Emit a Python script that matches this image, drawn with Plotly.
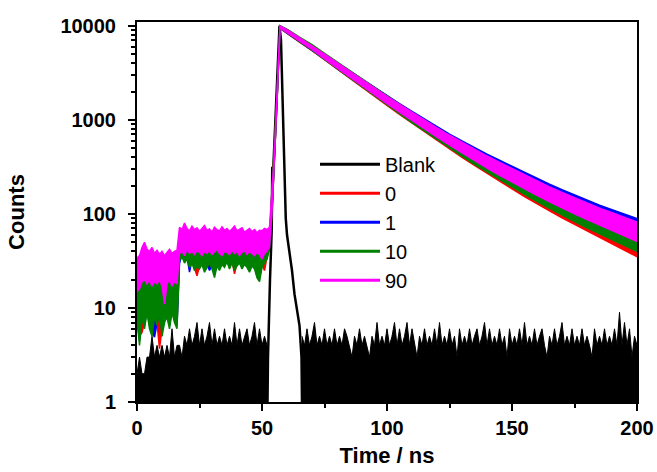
import plotly.graph_objects as go

# ---------------- data ----------------
# shared time grid (ns) for the four fluorescence decays
T_FL = [0, 1, 2, 3, 4, 5, 6, 7, 8, 9, 10, 11, 12, 13, 14, 15, 16,
        17, 18, 19, 20, 21, 22, 23, 24, 25, 26, 27, 28, 29, 30, 31, 32, 33, 34, 35,
        36, 37, 38, 39, 40, 41, 42, 43, 44, 45, 46, 47, 48, 49, 50, 51, 52, 53,
        54, 55, 56, 57.2,
        60, 65, 70, 75, 80, 85, 90, 95, 100, 105, 110, 115, 120, 125, 130, 135,
        140, 145, 150, 155, 160, 165, 170, 175, 180, 185, 190, 195, 200]

# series "0" (red): upper / lower noise envelope
S0_HI = [20, 21, 23, 22, 21, 23, 20, 22, 21, 23, 20, 19, 21, 23, 20, 22, 21,
         44, 46, 43, 48, 45, 47, 44, 46, 43, 45, 48, 44, 46, 43, 47, 45, 44, 46, 48,
         43, 45, 47, 44, 46, 45, 43, 47, 44, 46, 45, 43, 46, 44, 45, 47, 46, 52,
         160, 430, 1800, 9900,
         9050, 7400, 6150, 4950, 4020, 3250, 2640, 2140, 1750, 1430, 1170, 965, 800, 665, 555, 465,
         395, 337, 288, 246, 211, 182, 158, 137, 120, 106, 94, 83, 74]
S0_LO = [8, 5, 5.5, 7, 9.5, 7, 6, 8.5, 7, 3.7, 6, 7.5, 8.5, 7, 9.5, 8, 7,
         34, 37, 32, 35, 29, 32, 27, 22, 28, 31, 26, 29, 32, 28, 23, 30, 27, 31, 29,
         33, 28, 32, 23, 30, 32, 28, 31, 29, 26, 30, 28, 23, 21, 29, 25, 35, 44,
         100, 360, 1500, 9400,
         8250, 6700, 5450, 4350, 3450, 2760, 2200, 1780, 1420, 1140, 920, 745, 605, 492, 400, 327,
         268, 222, 184, 153, 128, 108, 91, 77, 65, 56, 48, 41, 35]

# series "1" (blue)
S1_HI = [20, 21, 22, 22, 21, 22, 20, 21, 21, 22, 20, 19, 21, 22, 20, 21, 21,
         44, 45, 43, 47, 45, 46, 44, 45, 43, 45, 47, 44, 45, 43, 46, 45, 44, 45, 47,
         43, 45, 46, 44, 45, 45, 43, 46, 44, 45, 45, 43, 45, 44, 45, 46, 45, 52,
         165, 435, 1820, 9950,
         9050, 7400, 6150, 5000, 4060, 3300, 2700, 2200, 1810, 1490, 1230, 1020, 845, 705, 595, 505,
         432, 372, 320, 275, 238, 207, 181, 159, 140, 124, 111, 99, 89]
S1_LO = [8, 4.5, 8.5, 6.5, 9.5, 6.5, 5.5, 4.9, 7, 9.5, 5.5, 7.5, 8.5, 6.5, 9.5, 7.5, 6.5,
         30, 37, 32, 35, 24, 32, 27, 30, 28, 31, 26, 29, 25, 28, 23, 30, 27, 31, 29,
         33, 28, 32, 27, 30, 32, 28, 31, 29, 26, 30, 28, 23, 21, 29, 32, 35, 44,
         108, 375, 1580, 9450,
         8350, 6800, 5550, 4430, 3530, 2830, 2270, 1830, 1480, 1195, 970, 795, 652, 538, 443, 370,
         309, 260, 220, 186, 158, 136, 117, 101, 88, 77, 68, 60, 53]

# series "10" (green)
S10_HI = [21, 22, 24, 23, 22, 24, 21, 23, 22, 24, 21, 20, 22, 24, 21, 23, 22,
          46, 48, 45, 50, 47, 49, 46, 48, 45, 47, 50, 46, 48, 45, 49, 47, 46, 48, 50,
          45, 47, 49, 46, 48, 47, 45, 49, 46, 48, 47, 45, 48, 46, 47, 49, 48, 55,
          170, 440, 1850, 10000,
          9200, 7550, 6300, 5100, 4130, 3350, 2710, 2200, 1790, 1460, 1195, 985, 812, 675, 562, 472,
          400, 342, 293, 251, 215, 186, 162, 142, 125, 110, 98, 87, 78]
S10_LO = [7.5, 4, 8, 6, 9, 6, 5, 8, 6.5, 9, 5, 7, 8, 6, 9, 7, 6,
          32, 35, 30, 33, 27, 30, 25, 28, 26, 29, 24, 27, 30, 26, 21, 28, 25, 29, 27,
          31, 26, 30, 25, 28, 30, 26, 29, 27, 24, 28, 26, 21, 19, 27, 30, 33, 42,
          105, 370, 1550, 9450,
          8300, 6750, 5500, 4380, 3490, 2790, 2230, 1795, 1445, 1160, 935, 757, 615, 502, 410, 337,
          278, 231, 193, 161, 135, 114, 97, 83, 71, 61, 53, 46, 40]

# series "90" (magenta)
S90_HI = [34, 36, 44, 50, 42, 40, 44, 38, 41, 37, 40, 36, 39, 42, 38, 40, 41,
          72, 68, 80, 70, 66, 74, 68, 71, 65, 70, 75, 67, 69, 64, 72, 68, 66, 73, 67,
          70, 65, 69, 74, 66, 68, 71, 64, 67, 70, 65, 68, 63, 67, 66, 70, 68, 72,
          180, 450, 1900, 9950,
          9100, 7450, 6200, 5000, 4050, 3280, 2660, 2170, 1780, 1460, 1200, 990, 820, 685, 575, 485,
          412, 352, 302, 260, 224, 194, 169, 148, 130, 115, 103, 92, 82]
S90_LO = [15, 16, 19, 20, 18, 20, 17, 19, 18, 20, 17, 11, 18, 20, 17, 19, 18,
          38, 40, 36, 42, 38, 40, 37, 41, 39, 36, 40, 38, 41, 37, 39, 42, 38, 36, 40,
          39, 37, 41, 38, 40, 36, 39, 41, 37, 40, 38, 36, 39, 37, 33, 38, 40, 45,
          110, 380, 1600, 9500,
          8400, 6850, 5600, 4450, 3550, 2850, 2290, 1850, 1490, 1205, 980, 800, 655, 540, 445, 368,
          306, 257, 217, 184, 157, 134, 115, 100, 87, 76, 66, 58, 51]

# Blank: background counts (upper envelope) before and after the lamp pulse
BLANK_T1 = list(range(0, 53))
BLANK_U1 = [2, 3, 2, 2, 3, 3, 5, 3, 4, 3, 4, 3, 4, 3, 6, 3, 4,
            4, 3, 5, 4, 6, 4, 5, 7, 4, 6, 4, 5, 7, 4, 6, 4, 5, 4, 6,
            4, 5, 4, 7, 4, 6, 4, 5, 6, 4, 5, 7, 4, 6, 4, 5, 4]
BLANK_T2 = list(range(66, 201))
BLANK_U2 = [5, 4, 6, 4, 5, 7, 4, 5, 4, 6, 4, 5, 4, 6, 4, 5, 4, 6, 5, 4,
            3, 5, 4, 6, 4, 5, 4, 3, 5, 4, 7, 4, 5, 4, 6, 4, 5, 7, 4, 6,
            4, 5, 7, 4, 6, 4, 3, 5, 4, 6, 4, 5, 4, 6, 4, 7, 4, 5, 4, 6,
            4, 5, 3, 6, 4, 5, 4, 6, 4, 5, 6, 4, 5, 7, 4, 6, 4, 5, 4, 6,
            4, 5, 3, 6, 4, 5, 4, 6, 4, 7, 4, 5, 4, 6, 4, 5, 6, 4, 3, 5,
            4, 6, 4, 5, 7, 4, 5, 4, 6, 4, 5, 4, 6, 4, 5, 4, 3, 6, 4, 5,
            4, 6, 4, 5, 4, 6, 4, 9, 4, 7, 4, 6, 3, 5, 4]
BLANK_FLOOR = 1
# Blank: instrument response (lamp pulse)
IRF_T = [52.2, 52.4, 53.2, 53.9, 54.1, 54.5, 55.5, 56.3, 57.0, 57.6, 58.5, 59.5,
         60.0, 61.0, 62.0, 63.0, 64.0, 65.0, 65.8, 66.0]
IRF_Y = [1, 3, 20, 70, 316, 300, 1200, 3700, 10000, 7000, 900, 90,
         60, 40, 25, 14, 9, 6.5, 3, 1]

SERIES = [("0", "#ff0000", S0_HI, S0_LO),
          ("1", "#0000ff", S1_HI, S1_LO),
          ("10", "#008000", S10_HI, S10_LO),
          ("90", "#ff00ff", S90_HI, S90_LO)]

Y_TICKS = [1, 10, 100, 1000, 10000]
Y_TICKTEXT = ["1", "10", "100", "1000", "10000"]
X_TICKS = [0, 50, 100, 150, 200]

# ---------------- figure ----------------
fig = go.Figure()

# Blank background (filled down to the floor count)
for tt, uu in ((BLANK_T1, BLANK_U1), (BLANK_T2, BLANK_U2)):
    fig.add_trace(go.Scatter(
        x=tt + tt[::-1], y=uu + [BLANK_FLOOR] * len(tt), mode="lines",
        fill="toself", fillcolor="black", line=dict(color="black", width=1),
        showlegend=False, hoverinfo="skip"))
fig.add_trace(go.Scatter(x=IRF_T, y=IRF_Y, mode="lines",
                         line=dict(color="black", width=2.5),
                         showlegend=False, hoverinfo="skip"))

for name, col, hi, lo in SERIES:
    fig.add_trace(go.Scatter(
        x=T_FL + T_FL[::-1], y=hi + lo[::-1], mode="lines", fill="toself",
        fillcolor=col, line=dict(color=col, width=1.5),
        showlegend=False, hoverinfo="skip"))

# legend entries
for name, col in [("Blank", "black")] + [(s[0], s[1]) for s in SERIES]:
    fig.add_trace(go.Scatter(x=[None], y=[None], mode="lines", name=name,
                             line=dict(color=col, width=3)))

FAM = "Liberation Sans, Arial, sans-serif"
tickfont = dict(family=FAM, size=20, color="black", weight="bold")
titlefont = dict(family=FAM, size=22, color="black", weight="bold")

fig.update_layout(
    width=657, height=472,
    margin=dict(l=137, r=20, t=22, b=70, autoexpand=False),
    paper_bgcolor="white", plot_bgcolor="white",
    showlegend=True,
    legend=dict(x=0.356, y=0.677, xanchor="left", yanchor="top",
                bgcolor="rgba(0,0,0,0)", borderwidth=0, itemwidth=60,
                font=dict(family=FAM, size=20, color="black"),
                tracegroupgap=0),
    xaxis=dict(range=[0, 200], tickmode="array", tickvals=X_TICKS,
               ticks="outside", ticklen=7, tickwidth=2, tickcolor="black",
               minor=dict(ticks="outside", ticklen=4, tickwidth=1.5, dtick=25, tick0=0,
                          tickcolor="black", showgrid=False),
               showline=True, linewidth=2, linecolor="black", mirror=True,
               showgrid=False, zeroline=False, tickfont=tickfont, automargin=False,
               title=dict(text="Time / ns", font=titlefont, standoff=10)),
    yaxis=dict(type="log", range=[0, 4.04], tickmode="array",
               tickvals=Y_TICKS, ticktext=Y_TICKTEXT,
               ticks="outside", ticklen=7, tickwidth=2, tickcolor="black",
               minor=dict(ticks="outside", ticklen=4, tickwidth=1.5,
                          tickvals=[m * 10 ** d for d in range(4) for m in range(2, 10)],
                          tickcolor="black", showgrid=False),
               showline=True, linewidth=2, linecolor="black", mirror=True,
               showgrid=False, zeroline=False, tickfont=tickfont, automargin=False,
               ticklabelstandoff=8,
               title=dict(text="Counts", font=titlefont, standoff=30)),
)

fig.write_html("out.html")
